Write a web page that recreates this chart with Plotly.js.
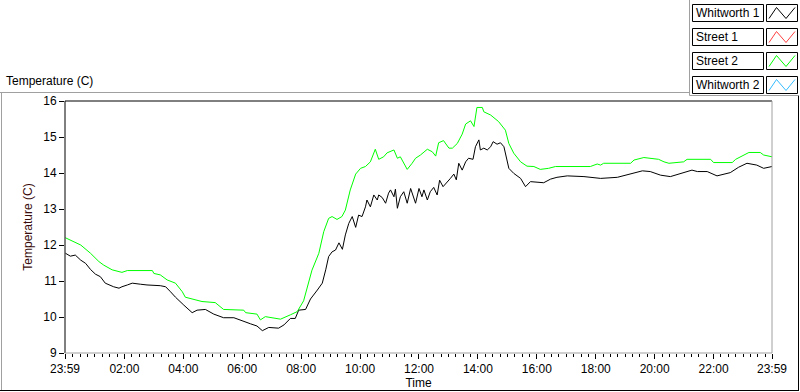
<!DOCTYPE html>
<html>
<head>
<meta charset="utf-8">
<script src="https://cdn.plot.ly/plotly-3.0.1.min.js"></script>
<style>html,body{margin:0;padding:0;background:#fff;}#chart{width:800px;height:392px;}</style>
</head>
<body>
<div id="chart"></div>
<script>
// ---- data ----
const seriesNames = ["Whitworth 1", "Street 1", "Street 2", "Whitworth 2"];
const seriesColors = ["#000000", "#ff4040", "#00ff00", "#33bbff"];

const xTickLabels = ["23:59","02:00","04:00","06:00","08:00","10:00","12:00","14:00","16:00","18:00","20:00","22:00","23:59"];
const yTickValues = [9,10,11,12,13,14,15,16];

const whitworth1Time = ["00:00","00:10","00:20","00:31","00:41","00:51","01:01","01:11","01:21","01:38","01:49","01:55","02:06","02:16","02:33","02:46","03:13","03:24","03:34","03:44","04:01","04:18","04:28","04:45","05:02","05:22","05:43","06:03","06:17","06:30","06:41","06:54","07:14","07:25","07:38","07:48","07:55","08:09","08:19","08:33","08:43","08:50","08:56","09:03","09:10","09:17","09:24","09:30","09:37","09:44","09:51","09:57","10:04","10:11","10:14","10:21","10:28","10:35","10:38","10:45","10:52","10:58","11:02","11:09","11:12","11:16","11:22","11:29","11:36","11:43","11:49","11:53","12:00","12:06","12:10","12:17","12:23","12:30","12:37","12:42","12:49","12:57","13:04","13:11","13:16","13:21","13:28","13:35","13:41","13:50","13:55","14:02","14:05","14:12","14:19","14:26","14:31","14:39","14:46","14:53","14:58","15:03","15:13","15:27","15:37","15:47","16:14","16:28","16:41","17:02","17:36","18:10","18:44","19:11","19:35","19:51","20:12","20:32","20:53","21:16","21:27","21:47","22:07","22:34","22:51","23:08","23:28","23:42","23:59"];
const whitworth1Temp = [11.77,11.69,11.72,11.58,11.49,11.32,11.19,11.12,10.94,10.84,10.80,10.84,10.89,10.94,10.91,10.89,10.87,10.84,10.70,10.55,10.33,10.12,10.19,10.21,10.08,9.98,9.98,9.87,9.81,9.75,9.62,9.71,9.69,9.78,9.96,9.96,10.19,10.21,10.50,10.75,10.94,11.31,11.68,11.81,11.86,12.06,11.88,12.28,12.60,12.79,12.49,12.83,12.79,13.06,13.25,13.06,13.39,13.25,13.39,13.32,13.16,13.44,13.53,13.34,13.55,13.02,13.34,13.48,13.16,13.57,13.34,13.16,13.57,13.34,13.53,13.25,13.48,13.60,13.39,13.80,13.62,13.73,13.85,13.97,13.81,14.27,14.08,14.31,14.41,14.38,14.73,14.92,14.64,14.69,14.64,14.73,14.87,14.80,14.84,14.73,14.41,14.13,13.99,13.85,13.62,13.76,13.73,13.83,13.88,13.92,13.90,13.85,13.88,13.97,14.06,14.04,13.94,13.90,13.99,14.08,14.04,14.04,13.92,14.01,14.16,14.27,14.22,14.13,14.18];

const street1Time = [];
const street1Temp = [];

const street2Time = ["00:00","00:16","00:31","00:51","01:08","01:18","01:35","01:55","02:06","02:57","03:00","03:13","03:27","03:44","03:58","04:04","04:21","04:38","05:05","05:22","06:03","06:07","06:30","06:37","06:47","07:18","07:38","07:52","08:05","08:15","08:22","08:36","08:46","08:56","09:03","09:13","09:23","09:30","09:40","09:51","10:01","10:11","10:21","10:31","10:38","10:48","10:55","11:09","11:16","11:22","11:36","11:46","11:53","12:03","12:17","12:27","12:34","12:40","12:50","13:01","13:08","13:18","13:28","13:35","13:45","13:52","13:58","14:09","14:12","14:26","14:42","14:56","15:03","15:13","15:27","15:40","15:54","16:07","16:24","16:38","17:49","18:03","18:10","18:16","19:11","19:18","19:38","20:08","20:19","20:29","20:59","21:06","21:54","22:00","22:38","22:45","22:55","23:12","23:35","23:42","23:59"];
const street2Temp = [12.20,12.10,12.00,11.77,11.54,11.44,11.31,11.24,11.29,11.29,11.21,11.17,11.03,10.94,10.70,10.55,10.50,10.43,10.40,10.21,10.19,10.12,10.08,9.92,10.01,9.94,10.06,10.15,10.45,10.95,11.30,11.77,12.37,12.74,12.79,12.71,12.79,12.97,13.53,13.97,14.13,14.18,14.31,14.66,14.38,14.45,14.56,14.64,14.41,14.45,14.10,14.27,14.41,14.50,14.66,14.59,14.47,14.84,14.90,14.69,14.69,14.82,15.08,15.36,15.45,15.29,15.82,15.82,15.70,15.61,15.43,15.19,14.82,14.55,14.31,14.19,14.18,14.10,14.13,14.18,14.18,14.25,14.22,14.27,14.27,14.36,14.43,14.38,14.31,14.27,14.31,14.38,14.38,14.29,14.29,14.38,14.45,14.57,14.57,14.50,14.45];

const whitworth2Time = [];
const whitworth2Temp = [];

// ---- helpers ----
const toHours = s => { const p = s.split(":"); return +p[0] + (+p[1]) / 60; };
const xStart = -1/60, xEnd = 24 - 1/60;
const xTickVals = [xStart, 2,4,6,8,10,12,14,16,18,20,22, xEnd];

const W = 800, H = 392;
const L = 65, R = 772, T = 101, B = 353;
const px = p => (p - L) / (R - L);
const py = p => (B - p) / (B - T);

const FONT = "Liberation Sans, Arial, sans-serif";

const allTimes = [whitworth1Time, street1Time, street2Time, whitworth2Time];
const allTemps = [whitworth1Temp, street1Temp, street2Temp, whitworth2Temp];

const traces = seriesNames.map((n, i) => ({
  type: "scatter", mode: "lines", name: n,
  x: allTimes[i].map(toHours), y: allTemps[i],
  line: {color: seriesColors[i], width: 1},
  showlegend: false, hoverinfo: "skip"
}));

const shapes = [];
const annotations = [];
const line = (x0, y0, x1, y1, color) => shapes.push({
  type: "line", xref: "paper", yref: "paper",
  x0: px(x0), y0: py(y0), x1: px(x1), y1: py(y1),
  line: {color: color, width: 1}, layer: "above"
});

// outer panel frame
line(0, 92.5, 689, 92.5, "#a0a0a0");
line(1.5, 92.5, 1.5, 391, "#a0a0a0");
line(0, 390.5, 799, 390.5, "#000000");
line(798.5, 95.5, 798.5, 391, "#000000");
// legend panel frame
line(689.5, 0, 689.5, 95.5, "#a0a0a0");
line(689.5, 95.5, 798.5, 95.5, "#a0a0a0");
// plot frame
line(L, T, R, T, "#000000");
line(L, T, L, B, "#000000");
line(R, T, R, B, "#a0a0a0");
line(L, B, R, B, "#a0a0a0");

// legend
seriesNames.forEach((n, i) => {
  const yt = 4.5 + 24 * i, yb = 21.5 + 24 * i;
  shapes.push({type: "rect", xref: "paper", yref: "paper",
    x0: px(692.5), x1: px(763.5), y0: py(yb), y1: py(yt),
    line: {color: "#000", width: 1}, fillcolor: "#fff", layer: "above"});
  shapes.push({type: "rect", xref: "paper", yref: "paper",
    x0: px(766.5), x1: px(797.5), y0: py(yb), y1: py(yt),
    line: {color: "#000", width: 1}, fillcolor: "#fff", layer: "above"});
  const pts = [[769, yb - 3], [776.5, yt + 3], [786, yb - 3], [795, yt + 3]];
  shapes.push({type: "path", xref: "paper", yref: "paper", layer: "above",
    path: "M" + pts.map(p => px(p[0]) + "," + py(p[1])).join(" L"),
    line: {color: seriesColors[i], width: 1}});
  annotations.push({xref: "paper", yref: "paper", x: px(694), y: py((yt + yb) / 2),
    xanchor: "left", yanchor: "middle", showarrow: false, text: n,
    font: {family: FONT, size: 12, color: "#000"}});
});

// chart label top-left
annotations.push({xref: "paper", yref: "paper", x: px(4), y: py(81),
  xanchor: "left", yanchor: "middle", showarrow: false, text: "Temperature (C)",
  font: {family: FONT, size: 12, color: "#000"}});

const layout = {
  width: W, height: H,
  margin: {l: L, r: W - R, t: T, b: H - B, pad: 0},
  paper_bgcolor: "#fff", plot_bgcolor: "#fff",
  font: {family: FONT, size: 12, color: "#000"},
  showlegend: false,
  xaxis: {
    range: [xStart, xEnd], tickmode: "array", tickvals: xTickVals, ticktext: xTickLabels,
    ticks: "outside", ticklen: 5, tickcolor: "#000", tickwidth: 1,
    minor: {tickmode: "linear", tick0: 0, dtick: 0.25, ticks: "outside", ticklen: 3, tickcolor: "#000", showgrid: false},
    showgrid: false, zeroline: false, showline: false, fixedrange: true,
    tickfont: {family: FONT, size: 12, color: "#000"},
    title: {text: "Time", standoff: 3, font: {family: FONT, size: 12, color: "#000"}},
    automargin: false
  },
  yaxis: {
    range: [9, 16], tickmode: "array", tickvals: yTickValues,
    ticks: "outside", ticklen: 5, tickcolor: "#000", tickwidth: 1,
    showgrid: false, zeroline: false, showline: false, fixedrange: true,
    tickfont: {family: FONT, size: 12, color: "#000"},
    title: {text: "Temperature (C)", standoff: 8, font: {family: FONT, size: 12, color: "#3a0c0c"}},
    automargin: false
  },
  shapes: shapes,
  annotations: annotations
};

Plotly.newPlot("chart", traces, layout, {staticPlot: true, displayModeBar: false});
</script>
</body>
</html>
